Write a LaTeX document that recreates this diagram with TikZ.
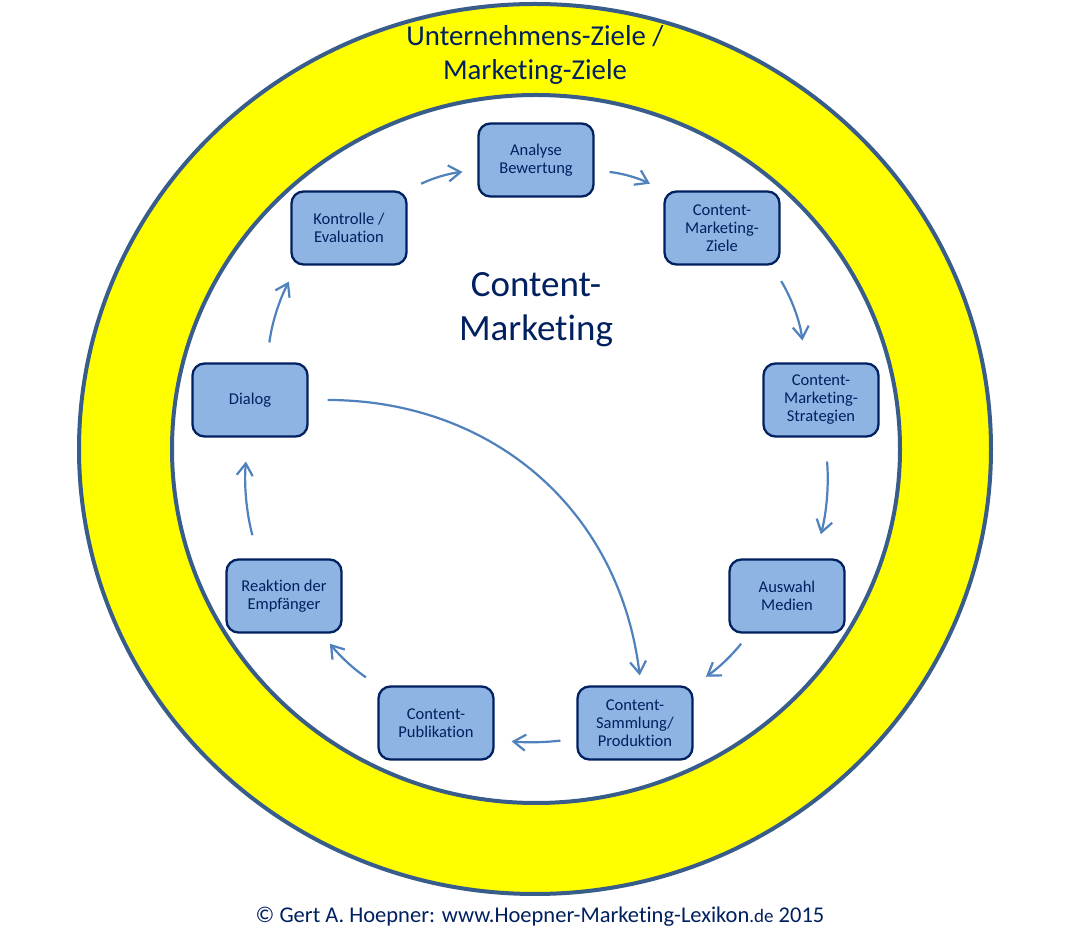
\documentclass[tikz,border=0pt]{standalone}
\usepackage{fontspec}
\setmainfont{Carlito}[Ligatures=NoCommon]
\usetikzlibrary{arrows.meta}
\definecolor{ringline}{RGB}{56,93,138}
\definecolor{navy}{RGB}{0,32,96}
\definecolor{boxfill}{RGB}{142,180,227}
\definecolor{arrowc}{RGB}{79,129,189}
\definecolor{ringfill}{RGB}{255,255,0}
\tikzset{
  stepbox/.style={draw=navy, line width=2.3pt, fill=boxfill, rounded corners=12pt,
    minimum width=115pt, minimum height=73pt, align=center, text=navy,
    font=\fontsize{16.5}{18}\selectfont, inner sep=2pt},
  flow/.style={draw=arrowc, line width=2.2pt, -{Straight Barb[length=12pt,width=16pt]}},
  ringstroke/.style={draw=ringline, line width=4pt}
}
\begin{document}
\begin{tikzpicture}[x=1pt,y=1pt]
\useasboundingbox (0,0) rectangle (1072,945);
\fill[white] (0,0) rectangle (1072,945);
% rings
\draw[ringstroke, fill=ringfill] (535,496) ellipse [x radius=456, y radius=445];
\draw[ringstroke, fill=white] (536,496) ellipse [x radius=364, y radius=354];
% ring text
\node[text=navy, align=center, font=\fontsize{28.8}{34}\selectfont] (ringtext) at (535,890) {Unternehmens-Ziele /\\Marketing-Ziele};
% centre title
\node[text=navy, align=center, font=\fontsize{37}{44}\selectfont] (title) at (536,635) {Content-\\Marketing};
% boxes
\node[stepbox] (ana) at (536,785) {Analyse\\Bewertung};
\node[stepbox] (zie) at (722,717) {Content-\\Marketing-\\Ziele};
\node[stepbox] (str) at (821,545) {Content-\\Marketing-\\Strategien};
\node[stepbox] (aus) at (787,349) {Auswahl\\Medien};
\node[stepbox] (sam) at (635,222) {Content-\\Sammlung/\\Produktion};
\node[stepbox] (pub) at (436,222) {Content-\\Publikation};
\node[stepbox] (rea) at (284,349) {Reaktion der\\Empfänger};
\node[stepbox] (dia) at (250,545) {Dialog};
\node[stepbox] (kon) at (349,717) {Kontrolle /\\Evaluation};
% cycle arrows
\draw[flow, shorten <=15pt, shorten >=15pt] (kon.north east) to[bend left=10] (ana.190);
\draw[flow, shorten <=15pt, shorten >=15pt] (ana.350) to[bend left=10] (zie.north west);
\draw[flow, shorten <=18pt, shorten >=22pt] (zie.-37) to[bend left=12] (str.113);
\draw[flow, shorten <=24pt, shorten >=25pt] (str.-84) to[bend left=10] (aus.54);
\draw[flow, shorten <=13pt, shorten >=15pt] (aus.225) to[bend left=8] (sam.north east);
\draw[flow, shorten <=16pt, shorten >=17pt] (sam.195) to[bend left=6] (pub.344);
\draw[flow, shorten <=14pt, shorten >=13pt] (pub.north west) to[bend left=8] (rea.-45);
\draw[flow, shorten <=24pt, shorten >=24pt] (rea.124) to[bend left=10] (dia.-93);
\draw[flow, shorten <=20pt, shorten >=18pt] (dia.66) to[bend left=10] (kon.216);
% long arrow
\draw[flow, shorten <=19pt, shorten >=10pt] (dia.east) to[out=0, in=97, looseness=1.05] (sam.81);
% copyright
\node[text=navy, font=\fontsize{22.5}{26}\selectfont] (copy) at (540,28)
  {© Gert A. Hoepner: www.Hoepner-Marketing-Lexikon{\fontsize{19}{22}\selectfont.de} 2015};
\end{tikzpicture}
\end{document}
